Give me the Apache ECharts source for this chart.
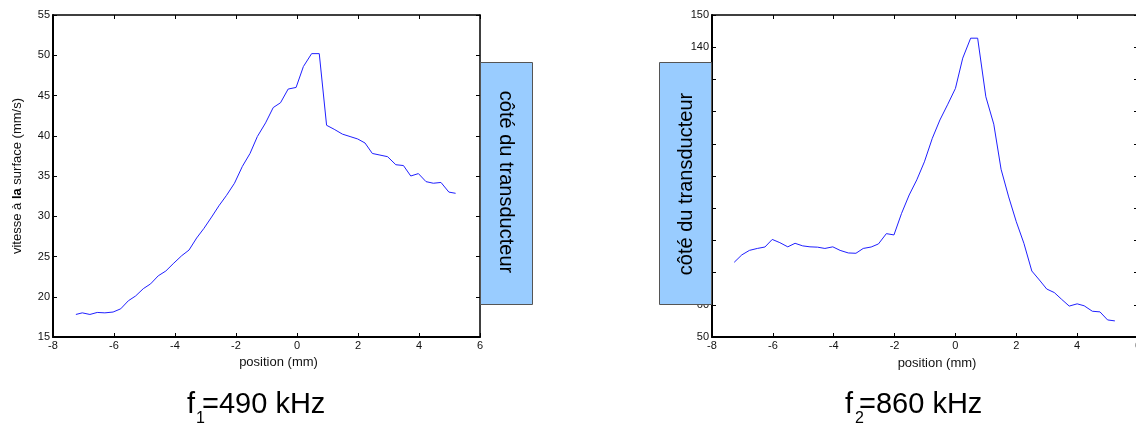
<!DOCTYPE html>
<html>
<head>
<meta charset="utf-8">
<script src="https://cdn.jsdelivr.net/npm/echarts@6/dist/echarts.min.js"></script>
<style>
html,body{margin:0;padding:0;background:#fff;}
#c{width:1136px;height:426px;}
</style>
</head>
<body>
<div id="c"></div>
<script>
// Data: f1 = 490 kHz (left)
const pos1 = [-7.25,-7.04,-6.79,-6.55,-6.30,-6.03,-5.78,-5.53,-5.29,-5.04,-4.80,-4.55,-4.30,-4.06,-3.78,-3.54,-3.29,-3.05,-2.80,-2.56,-2.31,-2.05,-1.79,-1.54,-1.30,-1.03,-0.78,-0.54,-0.29,-0.03,0.21,0.48,0.73,0.97,1.22,1.49,1.74,1.99,2.23,2.47,2.72,2.97,3.24,3.49,3.73,3.98,4.23,4.47,4.72,4.98,5.20];
const vit1 = [17.8,18.0,17.8,18.05,18.0,18.1,18.5,19.5,20.1,21.0,21.6,22.6,23.2,24.1,25.1,25.8,27.3,28.5,29.9,31.3,32.6,34.1,36.2,37.8,39.9,41.6,43.5,44.1,45.8,46.0,48.6,50.2,50.2,41.3,40.8,40.2,39.9,39.6,39.1,37.8,37.6,37.4,36.4,36.3,35.0,35.3,34.3,34.1,34.2,33.0,32.85];
// Data: f2 = 860 kHz (right)
const pos2 = [-7.27,-7.02,-6.77,-6.51,-6.26,-6.02,-5.77,-5.51,-5.27,-5.02,-4.78,-4.53,-4.29,-4.03,-3.79,-3.52,-3.27,-3.03,-2.77,-2.53,-2.27,-2.02,-1.77,-1.52,-1.27,-1.02,-0.76,-0.51,-0.25,0.00,0.24,0.50,0.73,1.00,1.26,1.50,1.75,2.00,2.25,2.51,2.76,3.00,3.25,3.49,3.74,4.00,4.23,4.50,4.75,5.00,5.24];
const vit2 = [73.2,75.5,76.9,77.5,77.95,80.3,79.3,78.0,79.1,78.3,78.0,77.9,77.5,78.0,76.9,76.1,76.0,77.5,77.95,78.9,82.1,81.7,88.4,94.1,98.8,104.4,111.7,117.4,122.3,127.2,136.6,142.8,142.8,124.6,116.1,102.1,93.5,85.8,79.1,70.5,67.7,64.9,63.8,61.7,59.6,60.3,59.7,58.0,57.8,55.3,55.0];
const xTicks = {min:-8, max:6, interval:2};
const yTicks1 = {min:15, max:55, interval:5};
const yTicks2 = {min:50, max:150, interval:10};
const boxText = 'côté du transducteur';
const xName = 'position (mm)';
const yName1 = 'vitesse à la surface (mm/s)';
const title1 = ['f','1','=490 kHz'];
const title2 = ['f','2','=860 kHz'];

const FONT = 'Liberation Sans, Arial, Helvetica, sans-serif';
const chart = echarts.init(document.getElementById('c'), null, {renderer:'canvas'});

function xAxisDef(grid, top, extra) {
  return Object.assign({
    type:'value', gridIndex:grid, position: top ? 'top' : 'bottom',
    min:xTicks.min, max:xTicks.max, interval:xTicks.interval,
    axisLine:{onZero:false, lineStyle:{color:'#000', width: top ? 1.5 : 2}},
    axisTick:{inside:true, length:4, lineStyle:{color:'#000', width:1}},
    axisLabel: top ? {show:false} : {show:true, color:'#111', fontSize:11, fontFamily:FONT, margin:3, hideOverlap:false},
    splitLine:{show:false}
  }, extra || {});
}
function yAxisDef(grid, right, t, extra) {
  return Object.assign({
    type:'value', gridIndex:grid, position: right ? 'right' : 'left',
    min:t.min, max:t.max, interval:t.interval,
    axisLine:{onZero:false, lineStyle:{color:'#000', width: right ? 1.5 : 2}},
    axisTick:{inside:true, length:4, lineStyle:{color:'#000', width:1}},
    axisLabel: right ? {show:false} : {show:true, color:'#111', fontSize:11, fontFamily:FONT, margin:3},
    splitLine:{show:false}
  }, extra || {});
}

function titleGraphics(parts, x0, xSub, xRest) {
  return [
    {type:'text', x:x0, y:405, z:100, style:{text:parts[0], font:'29px '+FONT, fill:'#000', textVerticalAlign:'middle', verticalAlign:'middle'}},
    {type:'text', x:xSub, y:419, z:100, style:{text:parts[1], font:'16px '+FONT, fill:'#000', textVerticalAlign:'middle', verticalAlign:'middle'}},
    {type:'text', x:xRest, y:405, z:100, style:{text:parts[2], font:'29px '+FONT, fill:'#000', textVerticalAlign:'middle', verticalAlign:'middle'}}
  ];
}

const option = {
  animation:false,
  backgroundColor:'#fff',
  grid:[
    {left:53, top:15, width:427, height:322, containLabel:false, outerBoundsMode:'none'},
    {left:712, top:15, width:426, height:322, containLabel:false, outerBoundsMode:'none'}
  ],
  xAxis:[
    xAxisDef(0,false,{name:xName, nameLocation:'middle', nameGap:15,
      nameTextStyle:{fontSize:13, color:'#111', fontFamily:FONT, padding:[0,0,0,24]}}),
    xAxisDef(0,true),
    xAxisDef(1,false,{name:xName, nameLocation:'middle', nameGap:20,
      nameTextStyle:{fontSize:13, color:'#111', fontFamily:FONT, padding:[0,0,0,24]}}),
    xAxisDef(1,true)
  ],
  yAxis:[
    yAxisDef(0,false,yTicks1,{name:'{n|vitesse à }{b|la}{n| surface (mm/s)}', nameLocation:'middle', nameGap:29, nameRotate:90,
      nameTextStyle:{fontSize:13, color:'#111', fontFamily:FONT,
        rich:{n:{fontSize:13, color:'#111', fontFamily:FONT}, b:{fontSize:13, color:'#000', fontWeight:'bold', fontFamily:FONT}}}}),
    yAxisDef(0,true,yTicks1),
    yAxisDef(1,false,yTicks2),
    yAxisDef(1,true,yTicks2)
  ],
  series:[
    {type:'line', xAxisIndex:0, yAxisIndex:0, data:pos1.map((p,i)=>[p,vit1[i]]),
     showSymbol:false, symbol:'none', lineStyle:{color:'#2020ff', width:1}, itemStyle:{color:'#2020ff'}},
    {type:'line', xAxisIndex:2, yAxisIndex:2, data:pos2.map((p,i)=>[p,vit2[i]]),
     showSymbol:false, symbol:'none', lineStyle:{color:'#2020ff', width:1}, itemStyle:{color:'#2020ff'}}
  ],
  graphic:[
    {type:'rect', z:100, shape:{x:480.5, y:62.5, width:52, height:242}, style:{fill:'#99ccff', stroke:'#555', lineWidth:1}},
    {type:'text', z:101, x:506, y:182, rotation:-Math.PI/2,
      style:{text:boxText, font:'20px '+FONT, fill:'#000', textAlign:'center', textVerticalAlign:'middle', align:'center', verticalAlign:'middle'}},
    {type:'rect', z:100, shape:{x:659.5, y:62.5, width:52, height:242}, style:{fill:'#99ccff', stroke:'#555', lineWidth:1}},
    {type:'text', z:101, x:686, y:184, rotation:Math.PI/2,
      style:{text:boxText, font:'20px '+FONT, fill:'#000', textAlign:'center', textVerticalAlign:'middle', align:'center', verticalAlign:'middle'}}
  ].concat(titleGraphics(title1, 187, 196, 202), titleGraphics(title2, 845, 855, 859))
};
chart.setOption(option);
</script>
</body>
</html>
